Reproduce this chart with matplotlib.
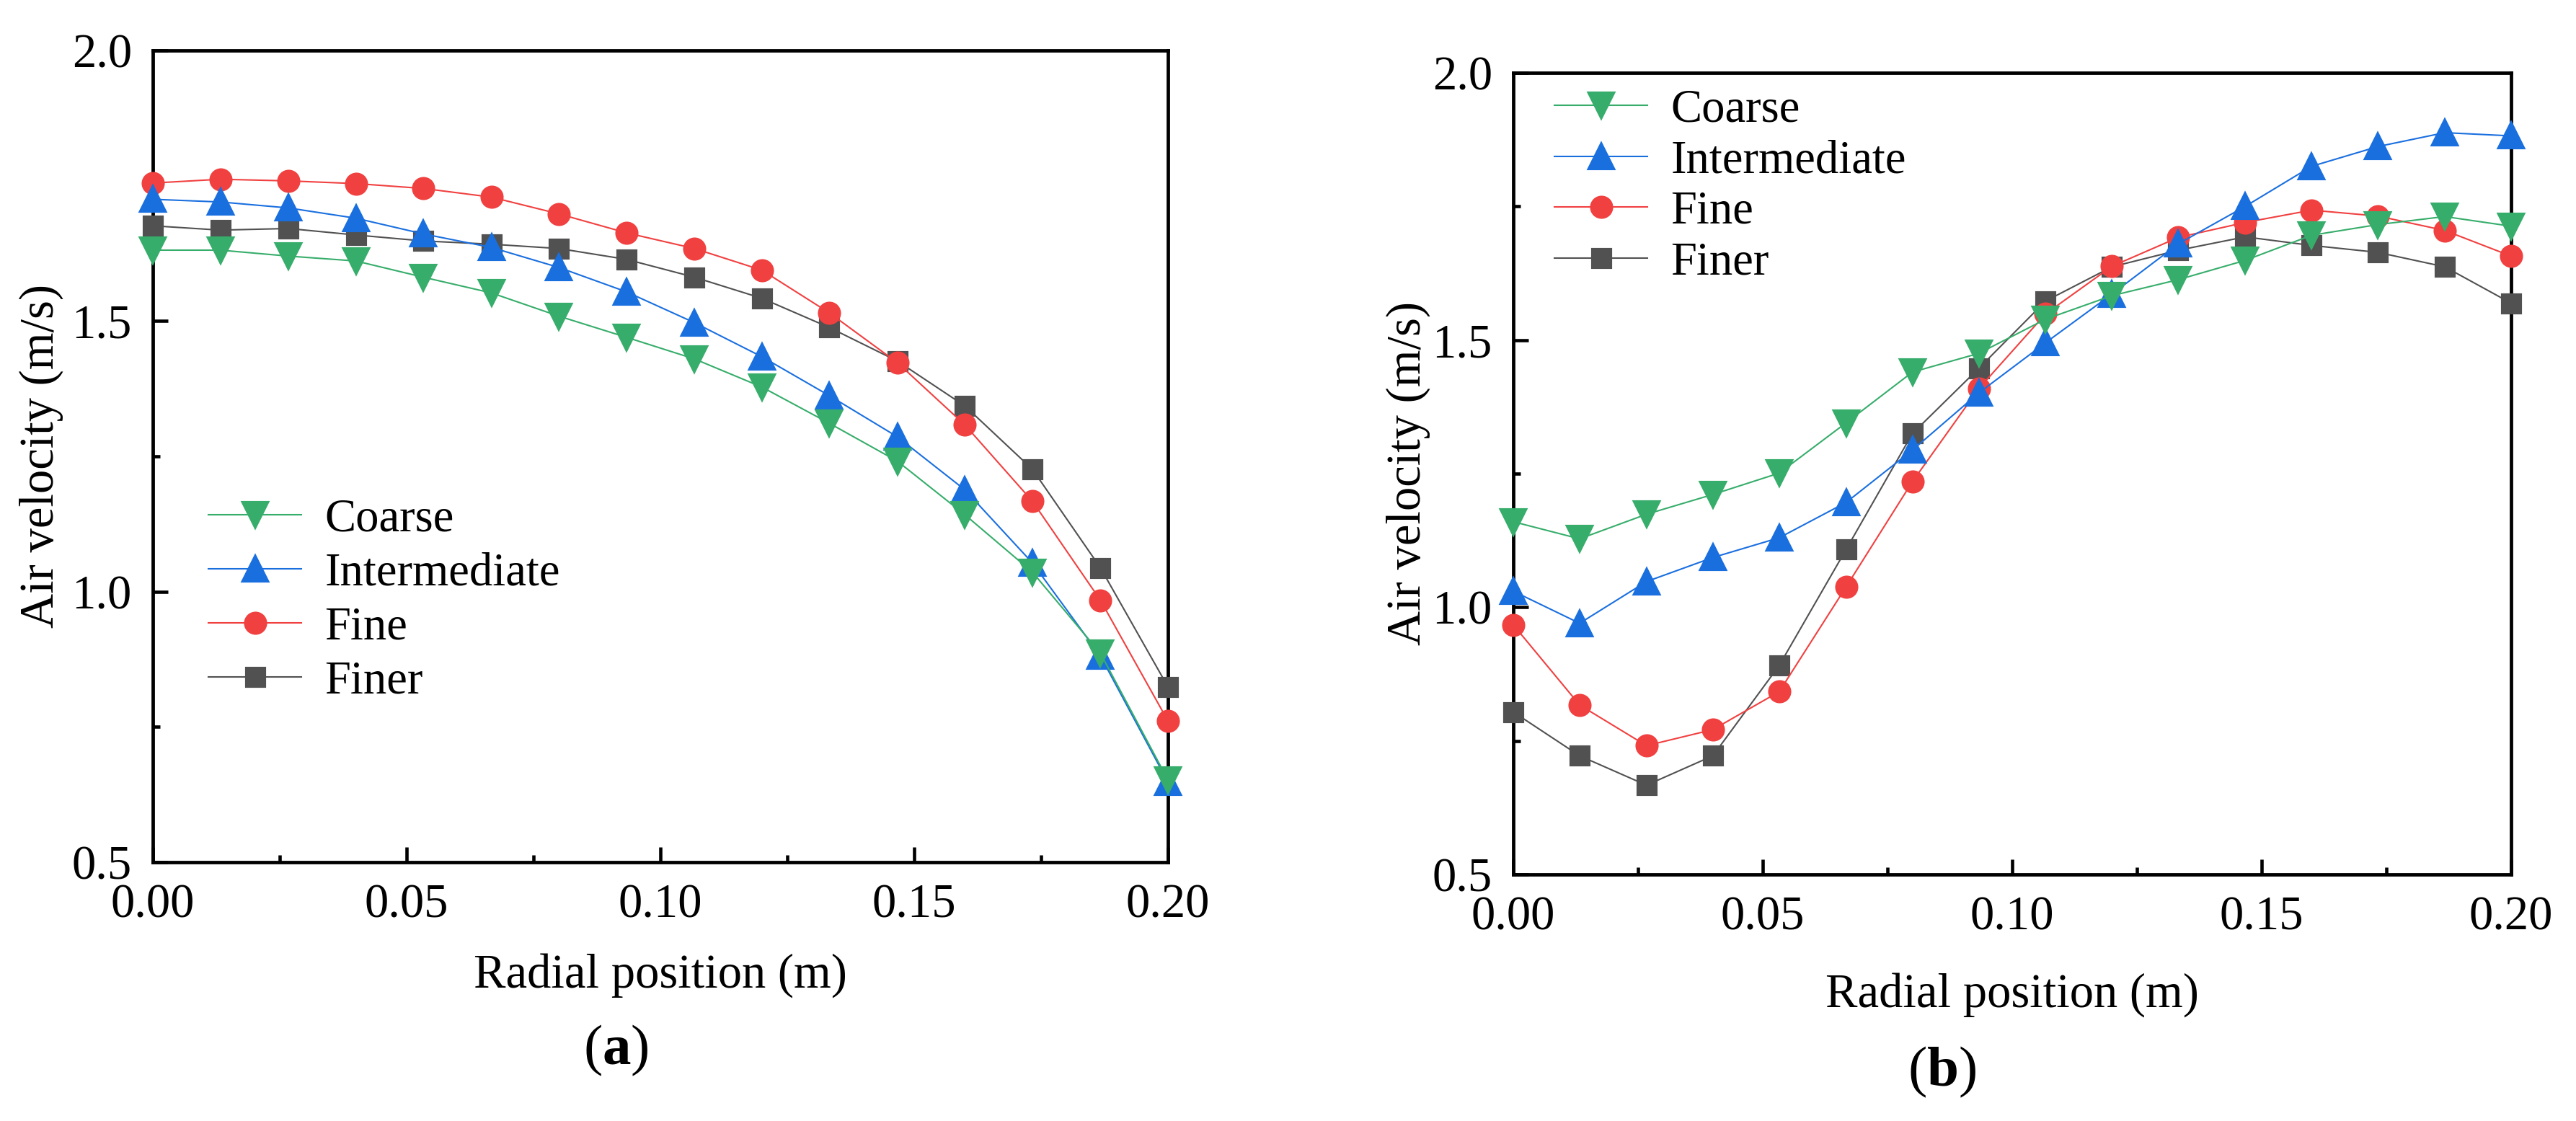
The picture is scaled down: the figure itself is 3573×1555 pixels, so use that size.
import numpy as np
import matplotlib
matplotlib.use("Agg")
import matplotlib.pyplot as plt
from matplotlib.ticker import MultipleLocator

plt.rcParams['font.family'] = ['Liberation Serif', 'DejaVu Serif']
plt.rcParams['mathtext.fontset'] = 'custom'
plt.rcParams['mathtext.rm'] = 'Liberation Serif'
plt.rcParams['mathtext.bf'] = 'Liberation Serif:bold'

# radial positions (16 points from 0 to 0.2 m)
radial_pos = [0.0, 0.0133, 0.0267, 0.04, 0.0533, 0.0667, 0.08, 0.0933,
              0.1067, 0.12, 0.1333, 0.1467, 0.16, 0.1733, 0.1867, 0.2]

# panel (a)
a_coarse = [1.631, 1.631, 1.620, 1.611, 1.581, 1.552, 1.509, 1.470,
            1.430, 1.378, 1.311, 1.241, 1.142, 1.036, 0.886, 0.652]
a_intermediate = [1.725, 1.720, 1.709, 1.690, 1.661, 1.636, 1.599, 1.554,
                  1.497, 1.434, 1.362, 1.286, 1.188, 1.053, 0.881, 0.648]
a_fine = [1.755, 1.762, 1.759, 1.754, 1.745, 1.729, 1.698, 1.663,
          1.634, 1.594, 1.515, 1.423, 1.308, 1.167, 0.984, 0.761]
a_finer = [1.676, 1.668, 1.671, 1.659, 1.648, 1.642, 1.634, 1.614,
           1.581, 1.542, 1.488, 1.426, 1.343, 1.226, 1.044, 0.824]

# panel (b)
b_coarse = [1.160, 1.128, 1.174, 1.211, 1.251, 1.345, 1.440, 1.475,
            1.539, 1.583, 1.613, 1.649, 1.696, 1.716, 1.731, 1.713]
b_intermediate = [1.030, 0.970, 1.048, 1.093, 1.130, 1.196, 1.294, 1.401,
                  1.495, 1.586, 1.680, 1.750, 1.825, 1.862, 1.888, 1.882]
b_fine = [0.967, 0.817, 0.741, 0.771, 0.842, 1.038, 1.235, 1.409,
          1.549, 1.638, 1.692, 1.720, 1.743, 1.732, 1.705, 1.657]
b_finer = [0.804, 0.722, 0.667, 0.722, 0.891, 1.108, 1.325, 1.447,
           1.573, 1.637, 1.668, 1.693, 1.677, 1.664, 1.637, 1.569]

labels = ['Coarse', 'Intermediate', 'Fine', 'Finer']
colors = ['#37AD6B', '#1A6FDF', '#F14040', '#515151']
markers = ['v', '^', 'o', 's']
msizes = [8.0, 8.0, 6.7, 6.0]

fig = plt.figure(figsize=(3573 / 300, 1555 / 300), dpi=300)
ax_a = fig.add_axes([0.05933, 0.23087, 0.39407, 0.72412])
ax_b = fig.add_axes([0.58746, 0.21994, 0.38735, 0.71511])


def draw_panel(ax, series, leg_anchor, leg_spacing, ylab_x, xlab_y):
    # plot in reverse so Coarse ends up on top, legend keeps original order
    handles = [None] * 4
    for i in reversed(range(4)):
        h, = ax.plot(radial_pos, series[i], color=colors[i], lw=0.5,
                     marker=markers[i], ms=msizes[i], mec=colors[i],
                     mfc=colors[i], label=labels[i], zorder=3 + (3 - i),
                     clip_on=False)
        handles[i] = h
    ax.set_xlim(0, 0.2)
    ax.set_ylim(0.5, 2.0)
    ax.xaxis.set_major_locator(MultipleLocator(0.05))
    ax.xaxis.set_minor_locator(MultipleLocator(0.025))
    ax.yaxis.set_major_locator(MultipleLocator(0.5))
    ax.yaxis.set_minor_locator(MultipleLocator(0.25))
    ax.xaxis.set_major_formatter(matplotlib.ticker.FormatStrFormatter('%.2f'))
    ax.yaxis.set_major_formatter(matplotlib.ticker.FormatStrFormatter('%.1f'))
    ax.tick_params(which='both', direction='in', top=False, right=False,
                   width=1.1, labelsize=16, pad=7)
    ax.tick_params(which='major', length=5)
    ax.tick_params(which='minor', length=2.5)
    for sp in ax.spines.values():
        sp.set_linewidth(1.15)
    ax.set_xlabel('Radial position (m)', fontsize=16)
    ax.set_ylabel('Air velocity (m/s)', fontsize=16)
    ax.xaxis.set_label_coords(0.5, xlab_y)
    ax.yaxis.set_label_coords(ylab_x, 0.5)
    ax.legend(handles=handles, loc='center left', bbox_to_anchor=leg_anchor,
              frameon=False, fontsize=15.5, borderpad=0, borderaxespad=0,
              handlelength=2.0, handletextpad=0.5, labelspacing=leg_spacing)


draw_panel(ax_a, [a_coarse, a_intermediate, a_fine, a_finer],
           (0.0547, 0.322), 0.237, -0.088, -0.112)
draw_panel(ax_b, [b_coarse, b_intermediate, b_fine, b_finer],
           (0.0412, 0.858), 0.172, -0.083, -0.122)

fig.text(0.239, 0.063, r'($\mathbf{a}$)', fontsize=19, ha='center', va='center')
fig.text(0.754, 0.0437, r'($\mathbf{b}$)', fontsize=19, ha='center', va='center')

fig.savefig('out.png', dpi=300, facecolor='white')
